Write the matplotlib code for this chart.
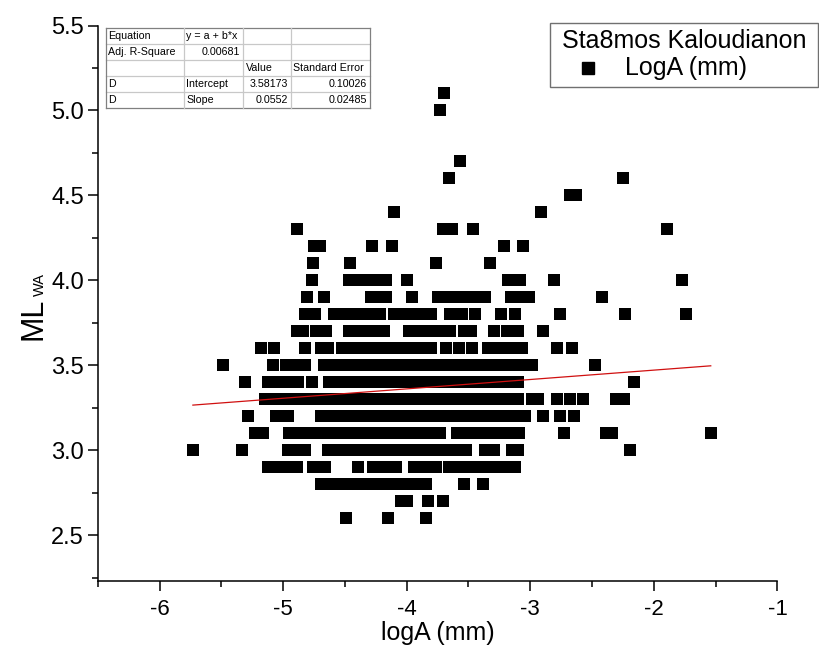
import matplotlib
matplotlib.use('Agg')
import matplotlib.pyplot as plt
from matplotlib.lines import Line2D
from matplotlib.patches import Rectangle
from matplotlib.ticker import MultipleLocator, FormatStrFormatter

plt.rcParams['font.family'] = ['Liberation Sans', 'DejaVu Sans']
plt.rcParams['axes.unicode_minus'] = False

# ---------------- data: logA values for each ML level ----------------
x_260 = [-4.49, -4.15, -3.84]
x_270 = [-4.05, -4.00, -3.83, -3.71]
x_280 = [-4.69, -4.61, -4.54, -4.46, -4.38, -4.31, -4.23, -4.15, -4.08, -4.00,
         -3.90, -3.84, -3.54, -3.38]
x_290 = [-5.12, -5.04, -4.97, -4.89, -4.76, -4.66, -4.39, -4.27, -4.18, -4.09,
         -3.94, -3.85, -3.76, -3.66, -3.58, -3.50, -3.42, -3.35, -3.27, -3.19, -3.12]
x_300 = [-5.73, -5.33, -4.96, -4.89, -4.82, -4.64, -4.57, -4.50, -4.43, -4.36,
         -4.29, -4.22, -4.15, -4.08, -4.01, -3.94, -3.87, -3.80, -3.73, -3.66,
         -3.59, -3.52, -3.37, -3.29, -3.15, -3.10, -2.19]
x_310 = [-5.23, -5.16, -4.95, -4.88, -4.81, -4.74, -4.67, -4.60, -4.53, -4.46,
         -4.39, -4.32, -4.25, -4.18, -4.11, -4.04, -3.97, -3.90, -3.83, -3.76,
         -3.73, -3.59, -3.52, -3.45, -3.38, -3.31, -3.24, -3.17, -3.09, -2.73,
         -2.39, -2.34, -1.54]
x_320 = [-5.28, -5.06, -4.96, -4.69, -4.62, -4.55, -4.48, -4.41, -4.34, -4.27,
         -4.20, -4.13, -4.06, -3.99, -3.92, -3.85, -3.78, -3.71, -3.64, -3.57,
         -3.50, -3.43, -3.36, -3.29, -3.22, -3.15, -3.08, -3.04, -2.90, -2.76, -2.65]
x_330 = [-5.15, -5.08, -5.01, -4.94, -4.87, -4.80, -4.73, -4.66, -4.59, -4.52,
         -4.45, -4.38, -4.31, -4.24, -4.17, -4.10, -4.03, -3.96, -3.89, -3.82,
         -3.75, -3.68, -3.61, -3.54, -3.47, -3.40, -3.33, -3.26, -3.19, -3.12,
         -3.10, -2.99, -2.94, -2.78, -2.68, -2.57, -2.31, -2.24]
x_340 = [-5.31, -5.12, -5.04, -4.96, -4.88, -4.77, -4.63, -4.56, -4.49, -4.42,
         -4.35, -4.28, -4.21, -4.14, -4.07, -4.00, -3.93, -3.86, -3.79, -3.72,
         -3.65, -3.58, -3.51, -3.44, -3.37, -3.30, -3.23, -3.16, -3.10, -2.16]
x_350 = [-5.49, -5.08, -4.98, -4.90, -4.82, -4.67, -4.60, -4.53, -4.46, -4.39,
         -4.32, -4.25, -4.18, -4.11, -4.04, -3.97, -3.90, -3.83, -3.76, -3.69,
         -3.62, -3.55, -3.48, -3.41, -3.34, -3.27, -3.20, -3.13, -3.06, -2.99, -2.48]
x_360 = [-5.18, -5.07, -4.82, -4.69, -4.64, -4.52, -4.43, -4.33, -4.26, -4.18,
         -4.11, -4.03, -3.95, -3.88, -3.80, -3.68, -3.58, -3.47, -3.34, -3.25,
         -3.16, -3.07, -2.78, -2.66]
x_370 = [-4.89, -4.84, -4.73, -4.65, -4.47, -4.44, -4.35, -4.27, -4.18, -3.98,
         -3.90, -3.82, -3.73, -3.65, -3.54, -3.48, -3.29, -3.19, -3.10, -2.90]
x_380 = [-4.82, -4.74, -4.59, -4.52, -4.45, -4.37, -4.30, -4.22, -4.10, -4.02,
         -3.95, -3.87, -3.80, -3.65, -3.55, -3.45, -3.24, -3.12, -2.76, -2.23, -1.74]
x_390 = [-4.81, -4.67, -4.29, -4.22, -4.17, -3.96, -3.75, -3.69, -3.63, -3.57,
         -3.50, -3.44, -3.37, -3.16, -3.08, -3.01, -2.42]
x_400 = [-4.77, -4.47, -4.39, -4.35, -4.26, -4.17, -4.00, -3.18, -3.08, -2.81, -1.77]
x_410 = [-4.76, -4.46, -3.76, -3.33]
x_420 = [-4.75, -4.70, -4.28, -4.12, -3.21, -3.06]
x_430 = [-4.89, -3.71, -3.63, -3.46, -1.89]
x_440 = [-4.10, -2.91]
x_450 = [-2.68, -2.63]
x_460 = [-3.66, -2.25]
x_470 = [-3.57]
x_500 = [-3.73]
x_510 = [-3.70]

ml_levels = [2.6, 2.7, 2.8, 2.9, 3.0, 3.1, 3.2, 3.3, 3.4, 3.5, 3.6, 3.7, 3.8,
             3.9, 4.0, 4.1, 4.2, 4.3, 4.4, 4.5, 4.6, 4.7, 5.0, 5.1]
x_rows = [x_260, x_270, x_280, x_290, x_300, x_310, x_320, x_330, x_340, x_350,
          x_360, x_370, x_380, x_390, x_400, x_410, x_420, x_430, x_440, x_450,
          x_460, x_470, x_500, x_510]

fit_intercept = 3.58173
fit_slope = 0.0552

table_cells = [
    ["Equation", "y = a + b*x", "", ""],
    ["Adj. R-Square", "0.00681", "", ""],
    ["", "", "Value", "Standard Error"],
    ["D", "Intercept", "3.58173", "0.10026"],
    ["D", "Slope", "0.0552", "0.02485"],
]
table_align = [
    ["l", "l", "l", "l"],
    ["l", "r", "l", "l"],
    ["l", "l", "l", "l"],
    ["l", "l", "r", "r"],
    ["l", "l", "r", "r"],
]

legend_title = "Sta8mos Kaloudianon"
legend_label = "LogA (mm)"
x_title = "logA (mm)"

# ---------------- figure ----------------
W, H = 820, 658
fig = plt.figure(figsize=(W / 100, H / 100), dpi=100)
fig.patch.set_facecolor('white')


def P(x, y):
    return (x / W, 1 - y / H)


ax_left, ax_right, ax_top, ax_bottom = 97.7, 777.5, 25.5, 581
ax = fig.add_axes([ax_left / W, 1 - ax_bottom / H,
                   (ax_right - ax_left) / W, (ax_bottom - ax_top) / H])

xs, ys = [], []
for lvl, row in zip(ml_levels, x_rows):
    for v in row:
        xs.append(v)
        ys.append(lvl)

ax.scatter(xs, ys, marker='s', s=8.3 ** 2, c='black', linewidths=0, zorder=3)

x0, x1 = min(xs), max(xs)
ax.plot([x0, x1], [fit_intercept + fit_slope * x0, fit_intercept + fit_slope * x1],
        color='#d01010', lw=0.9, zorder=4)

ax.set_xlim(-6.5, -1)
ax.set_ylim(2.23, 5.5)
ax.xaxis.set_major_locator(MultipleLocator(1))
ax.xaxis.set_minor_locator(MultipleLocator(0.5))
ax.yaxis.set_major_locator(MultipleLocator(0.5))
ax.yaxis.set_minor_locator(MultipleLocator(0.25))
ax.yaxis.set_major_formatter(FormatStrFormatter('%.1f'))
ax.xaxis.set_major_formatter(FormatStrFormatter('%d'))

for s in ['top', 'right']:
    ax.spines[s].set_visible(False)
for s in ['left', 'bottom']:
    ax.spines[s].set_linewidth(1.1)
    ax.spines[s].set_color('black')

ax.tick_params(which='major', direction='out', length=7, width=1.1, color='black')
ax.tick_params(which='minor', direction='out', length=4.5, width=1.1, color='black')
ax.tick_params(axis='y', which='major', labelsize=17, pad=3)
ax.tick_params(axis='x', which='major', labelsize=16, pad=6)

ax.set_xlabel(x_title, fontsize=18)
ax.xaxis.set_label_coords(0.5, -0.072)

# y label: ML with small subscript WA
fig.text(*P(41, 340), "ML", fontsize=22, rotation=90, rotation_mode='anchor',
         ha='left', va='baseline')
fig.text(*P(44, 296), "WA", fontsize=10.5, rotation=90, rotation_mode='anchor',
         ha='left', va='baseline')

# ---------------- fit table ----------------
col_x = [106, 184, 243, 291, 370]
row_y = [27.5, 43.6, 59.7, 75.8, 91.9, 108]
for i, yv in enumerate(row_y):
    outer = i in (0, len(row_y) - 1)
    fig.add_artist(Line2D([col_x[0] / W, col_x[-1] / W], [1 - yv / H, 1 - yv / H],
                          color='#808080' if outer else '#c8c8c8', lw=0.9))
for j, xv in enumerate(col_x):
    outer = j in (0, len(col_x) - 1)
    fig.add_artist(Line2D([xv / W, xv / W], [1 - row_y[0] / H, 1 - row_y[-1] / H],
                          color='#808080' if outer else '#c8c8c8', lw=0.9))
for i, row in enumerate(table_cells):
    yc = (row_y[i] + row_y[i + 1]) / 2
    for j, txt in enumerate(row):
        if not txt:
            continue
        if table_align[i][j] == 'l':
            fig.text(*P(col_x[j] + 2.5, yc), txt, fontsize=7.7, ha='left', va='center')
        else:
            fig.text(*P(col_x[j + 1] - 3, yc), txt, fontsize=7.7, ha='right', va='center')

# ---------------- legend box ----------------
lx0, ly0, lx1, ly1 = 550, 23, 818, 87
fig.add_artist(Rectangle(P(lx0, ly1), (lx1 - lx0) / W, (ly1 - ly0) / H,
                         transform=fig.transFigure, fill=False,
                         edgecolor='#707070', lw=1.0))
fig.text(*P(562, 41), legend_title, fontsize=18, ha='left', va='center')
fig.add_artist(Line2D([588 / W], [1 - 68 / H], marker='s', markersize=9,
                      color='black', linestyle='none'))
fig.text(*P(625, 68), legend_label, fontsize=18, ha='left', va='center')

fig.savefig('out.png', dpi=100, facecolor='white')
